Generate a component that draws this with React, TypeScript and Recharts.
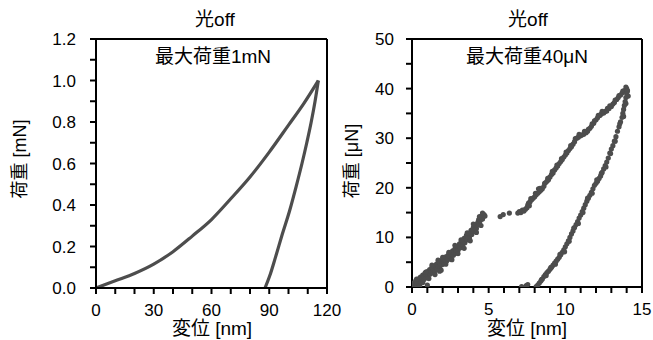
import React from 'react';
import { LineChart, Line, XAxis, YAxis, ReferenceLine, ScatterChart, Scatter } from 'recharts';

// ---------- Left chart (max load 1 mN) ----------
const leftXTicks = [0, 10, 20, 30, 40, 50, 60, 70, 80, 90, 100, 110, 120];
const leftYTicks = [0, 0.1, 0.2, 0.3, 0.4, 0.5, 0.6, 0.7, 0.8, 0.9, 1.0, 1.1, 1.2];
const leftLoading = [
  { x: 0, y: 0 }, { x: 10, y: 0.035 }, { x: 20, y: 0.07 }, { x: 30, y: 0.115 },
  { x: 40, y: 0.175 }, { x: 50, y: 0.25 }, { x: 60, y: 0.33 }, { x: 70, y: 0.43 },
  { x: 80, y: 0.535 }, { x: 90, y: 0.655 }, { x: 100, y: 0.785 }, { x: 108, y: 0.89 },
  { x: 115.5, y: 1.0 },
];
const leftUnloading = [
  { x: 87.8, y: 0 }, { x: 90.3, y: 0.06 }, { x: 93.3, y: 0.15 }, { x: 96.8, y: 0.26 },
  { x: 100.5, y: 0.37 }, { x: 104, y: 0.49 }, { x: 107, y: 0.6 }, { x: 109.5, y: 0.7 },
  { x: 111.8, y: 0.8 }, { x: 113.8, y: 0.9 }, { x: 115.5, y: 1.0 },
];

// ---------- Right chart (max load 40 uN) ----------
const rightXTicks = [0, 1, 2, 3, 4, 5, 6, 7, 8, 9, 10, 11, 12, 13, 14, 15];
const rightYTicks = [0, 5, 10, 15, 20, 25, 30, 35, 40, 45, 50];
const rightLoadingLow: [number, number][] = [
  [0.05, 0.2], [0.1, 0.8], [0.15, 0.0], [0.2, 0.5], [0.25, 1.3], [0.3, 0.3], [0.35, 0.9],
  [0.4, 1.6], [0.45, 0.6], [0.5, 1.2], [0.55, 2.0], [0.6, 1.0], [0.65, 1.7], [0.7, 2.4],
  [0.75, 1.4], [0.8, 2.1], [0.85, 2.8], [0.9, 1.8], [0.95, 2.5], [1.0, 0.4], [1.0, 3.1],
  [1.05, 2.2], [1.1, 2.8], [1.15, 3.5], [1.2, 2.6], [1.25, 3.2], [1.3, 3.9], [1.35, 3.0],
  [1.4, 3.6], [1.45, 4.2], [1.5, 3.3], [1.55, 4.0], [1.6, 4.6], [1.65, 3.7], [1.7, 4.3],
  [1.75, 5.0], [1.8, 4.1], [1.85, 4.7], [1.9, 3.4], [1.9, 5.3], [1.95, 4.5], [2.0, 5.1],
  [2.05, 5.7], [2.1, 4.8], [2.15, 5.4], [2.2, 6.1], [2.25, 5.2], [2.3, 5.8], [2.35, 6.4],
  [2.4, 5.6], [2.45, 6.2], [2.5, 6.9], [2.55, 6.0], [2.6, 6.6], [2.65, 7.3], [2.7, 6.4],
  [2.75, 7.0], [2.8, 7.7], [2.85, 6.8], [2.9, 7.4], [2.95, 8.1], [3.0, 7.4], [3.05, 8.1],
  [3.1, 8.7], [3.15, 7.9], [3.2, 8.6], [3.25, 9.3], [3.3, 8.4], [3.35, 9.1], [3.4, 9.8],
  [3.45, 8.9], [3.5, 9.7], [3.55, 10.4], [3.6, 9.5], [3.65, 10.1], [3.7, 10.8], [3.75, 9.9],
  [3.8, 10.7], [3.85, 11.4], [3.9, 10.6], [3.95, 11.3], [4.0, 12.0], [4.05, 11.2], [4.1, 11.9],
  [4.15, 12.6], [4.2, 11.8], [4.25, 12.5], [4.3, 13.1], [4.35, 13.6], [4.4, 12.8], [4.45, 13.4],
  [4.5, 14.0], [4.55, 14.4], [4.6, 13.7], [4.65, 14.2], [4.7, 14.6], [4.76, 14.3],
  [0.3, 1.6], [0.5, 0.2], [0.7, 0.9], [0.9, 3.0], [1.1, 1.7], [1.3, 4.4], [1.5, 2.5],
  [1.7, 5.4], [1.8, 3.2], [2.0, 6.0], [2.2, 4.6], [2.4, 7.0], [2.6, 5.5], [2.8, 8.4],
  [3.0, 6.7], [3.2, 9.5], [3.4, 7.8], [3.6, 10.9], [3.8, 9.3], [4.0, 12.7], [4.2, 11.0],
  [4.4, 14.2], [4.5, 12.4], [4.6, 14.9],
];
const rightGap: [number, number][] = [
  [5.75, 14.2], [5.95, 14.6], [6.35, 14.9],
];
const rightLoadingHigh: [number, number][] = [
  [6.9, 14.9], [7.0, 15.2], [7.1, 15.0], [7.2, 15.5], [7.3, 15.3], [7.4, 15.7], [7.5, 16.0],
  [7.55, 16.5], [7.6, 16.9], [7.65, 16.4], [7.7, 17.2], [7.75, 17.8], [7.8, 17.6], [7.9, 17.9],
  [8.0, 18.2], [8.05, 18.9], [8.1, 18.6], [8.2, 18.9], [8.25, 19.8], [8.3, 19.2], [8.35, 19.9],
  [8.4, 19.5], [8.5, 19.8], [8.6, 20.3], [8.65, 20.9], [8.7, 21.0], [8.8, 21.3], [8.85, 21.9],
  [8.9, 21.6], [9.0, 22.2], [9.1, 22.7], [9.15, 23.3], [9.2, 23.0], [9.3, 23.6], [9.4, 24.0],
  [9.45, 24.6], [9.5, 24.4], [9.6, 24.9], [9.7, 25.3], [9.75, 25.9], [9.8, 25.7], [9.9, 26.2],
  [10.0, 26.6], [10.05, 27.2], [10.1, 27.0], [10.2, 27.5], [10.3, 27.9], [10.35, 28.5],
  [10.4, 28.3], [10.5, 28.8], [10.6, 29.3], [10.65, 29.9], [10.75, 30.0], [10.85, 30.2],
  [10.9, 30.8], [11.0, 30.5], [11.1, 30.7], [11.2, 30.8], [11.25, 31.4], [11.35, 31.1],
  [11.45, 31.4], [11.5, 31.8], [11.6, 32.0], [11.7, 32.4], [11.75, 32.9], [11.85, 33.0],
  [11.9, 33.5], [12.0, 33.7], [12.1, 34.1], [12.15, 34.6], [12.25, 34.6], [12.35, 34.9],
  [12.4, 35.4], [12.5, 35.1], [12.6, 35.4], [12.7, 35.5], [12.75, 36.0], [12.85, 36.0],
  [12.9, 36.5], [13.0, 36.4], [13.1, 36.9], [13.2, 37.2], [13.25, 37.7], [13.35, 37.8],
  [13.45, 38.2], [13.5, 38.6], [13.6, 38.7], [13.7, 39.1], [13.75, 39.5], [13.85, 39.6],
  [13.95, 40.3], [14.0, 40.0], [14.05, 39.6], [14.1, 38.5],
];
const rightUnloading: [number, number][] = [
  [14.05, 39.5], [14.0, 39.0], [13.95, 38.2], [13.9, 37.4], [13.85, 36.6], [13.8, 35.8],
  [13.75, 35.0], [13.7, 34.2], [13.6, 33.3], [13.5, 32.3], [13.4, 31.4], [13.3, 30.3],
  [13.2, 29.4], [13.1, 28.5], [13.0, 27.8], [12.9, 27.0], [12.8, 26.0], [12.7, 25.2],
  [12.6, 24.5], [12.5, 23.8], [12.4, 23.1], [12.3, 22.4], [12.2, 21.9], [12.1, 21.3],
  [12.0, 20.9], [11.9, 20.5], [11.8, 19.8], [11.7, 19.1], [11.6, 18.5], [11.5, 17.9],
  [11.4, 17.3], [11.3, 16.6], [11.2, 15.9], [11.1, 15.2], [11.0, 14.5], [10.9, 13.9],
  [10.8, 13.2], [10.7, 12.6], [10.6, 12.0], [10.5, 11.3], [10.4, 10.7], [10.3, 10.0],
  [10.2, 9.3], [10.1, 8.7], [10.0, 8.1], [9.9, 7.5], [9.8, 7.0], [9.7, 6.5], [9.6, 6.0],
  [9.5, 5.6], [9.4, 5.2], [9.3, 4.8], [9.2, 4.4], [9.1, 4.0], [9.0, 3.6], [8.9, 3.2],
  [8.8, 2.9], [8.7, 2.5], [8.6, 2.1], [8.5, 1.6], [8.4, 1.2], [8.3, 0.8], [8.2, 0.4],
  [8.1, 0.1], [7.15, 0.1], [7.45, 0.3], [7.55, 0.5],
  [13.95, 37.0], [13.8, 34.4], [13.55, 32.9], [13.25, 29.4], [12.95, 26.9], [12.65, 24.2],
  [12.35, 22.9], [12.05, 21.6], [11.75, 18.9], [11.45, 17.9], [11.15, 15.0], [10.85, 12.8],
  [10.55, 11.9], [10.25, 9.2], [9.95, 7.1], [9.65, 6.6], [9.35, 4.6], [9.05, 3.9],
  [8.75, 2.3], [8.45, 1.5],
];

const toPts = (a: [number, number][]) => a.map(([x, y]) => ({ x, y }));
const rightPoints = [
  ...toPts(rightLoadingLow),
  ...toPts(rightGap),
  ...toPts(rightLoadingHigh),
  ...toPts(rightUnloading),
];

const FONT = '"Liberation Sans", Arial, "Noto Sans CJK JP", sans-serif';
const INK = '#4d4d4d';
const tickStyle = { fill: '#000', fontSize: 17, fontFamily: FONT };

const Dot = (props: any) => <circle cx={props.cx} cy={props.cy} r={2.6} fill={INK} />;

const textBase: React.CSSProperties = {
  position: 'absolute',
  fontFamily: FONT,
  color: '#000',
  whiteSpace: 'nowrap',
  textAlign: 'center',
  lineHeight: '22px',
  height: 22,
};

function Txt({ cx, cy, size, text, rotate }: { cx: number; cy: number; size: number; text: string; rotate?: boolean }) {
  const w = 160;
  return (
    <div
      style={{
        ...textBase,
        left: cx - w / 2,
        top: cy - 11,
        width: w,
        fontSize: size,
        transform: rotate ? 'rotate(-90deg)' : undefined,
      }}
    >
      {text}
    </div>
  );
}

export default function App() {
  return (
    <div style={{ position: 'absolute', left: 0, top: 0, width: 653, height: 340, background: '#fff', overflow: 'hidden' }}>
      <div style={{ position: 'absolute', left: 0, top: 0 }}>
        <LineChart width={350} height={340} margin={{ top: 39, right: 23, bottom: 22, left: 0 }}>
          <XAxis
            type="number"
            dataKey="x"
            domain={[0, 120]}
            ticks={leftXTicks}
            interval={0}
            allowDataOverflow
            tickFormatter={(v: number) => (v % 30 === 0 ? String(v) : '')}
            tick={tickStyle}
            tickSize={6}
            tickMargin={10}
            height={30}
            axisLine={{ stroke: '#000', strokeWidth: 2 }}
            tickLine={{ stroke: '#000', strokeWidth: 2 }}
          />
          <YAxis
            type="number"
            domain={[0, 1.2]}
            ticks={leftYTicks}
            interval={0}
            allowDataOverflow
            tickFormatter={(v: number) => (Math.round(v * 10) % 2 === 0 ? v.toFixed(1) : '')}
            tick={tickStyle}
            tickSize={6}
            tickMargin={14}
            width={96}
            axisLine={{ stroke: '#000', strokeWidth: 2 }}
            tickLine={{ stroke: '#000', strokeWidth: 2 }}
          />
          <ReferenceLine y={1.2} stroke="#000" strokeWidth={2} />
          <ReferenceLine x={120} stroke="#000" strokeWidth={2} />
          <Line data={leftLoading} dataKey="y" type="monotone" stroke={INK} strokeWidth={3.2} dot={false} isAnimationActive={false} />
          <Line data={leftUnloading} dataKey="y" type="monotone" stroke={INK} strokeWidth={3.2} dot={false} isAnimationActive={false} />
        </LineChart>
      </div>
      <div style={{ position: 'absolute', left: 330, top: 0 }}>
        <ScatterChart width={323} height={340} margin={{ top: 39, right: 11, bottom: 23, left: 0 }}>
          <XAxis
            type="number"
            dataKey="x"
            domain={[0, 15]}
            ticks={rightXTicks}
            interval={0}
            allowDataOverflow
            tickFormatter={(v: number) => (v % 5 === 0 ? String(v) : '')}
            tick={tickStyle}
            tickSize={6}
            tickMargin={10}
            height={30}
            axisLine={{ stroke: '#000', strokeWidth: 2 }}
            tickLine={{ stroke: '#000', strokeWidth: 2 }}
          />
          <YAxis
            type="number"
            dataKey="y"
            domain={[0, 50]}
            ticks={rightYTicks}
            interval={0}
            allowDataOverflow
            tickFormatter={(v: number) => (v % 10 === 0 ? String(v) : '')}
            tick={tickStyle}
            tickSize={6}
            tickMargin={12}
            width={82}
            axisLine={{ stroke: '#000', strokeWidth: 2 }}
            tickLine={{ stroke: '#000', strokeWidth: 2 }}
          />
          <ReferenceLine y={50} stroke="#000" strokeWidth={2} />
          <ReferenceLine x={15} stroke="#000" strokeWidth={2} />
          <Scatter data={rightPoints} shape={Dot} isAnimationActive={false} />
        </ScatterChart>
      </div>
      <Txt cx={215} cy={20} size={19} text="光off" />
      <Txt cx={213} cy={57} size={19} text="最大荷重1mN" />
      <Txt cx={212} cy={329} size={19} text="変位 [nm]" />
      <Txt cx={20} cy={159} size={18} text="荷重 [mN]" rotate />
      <Txt cx={528} cy={20} size={19} text="光off" />
      <Txt cx={527} cy={57} size={19} text="最大荷重40μN" />
      <Txt cx={527} cy={329} size={19} text="変位 [nm]" />
      <Txt cx={352} cy={161} size={18} text="荷重 [μN]" rotate />
    </div>
  );
}
